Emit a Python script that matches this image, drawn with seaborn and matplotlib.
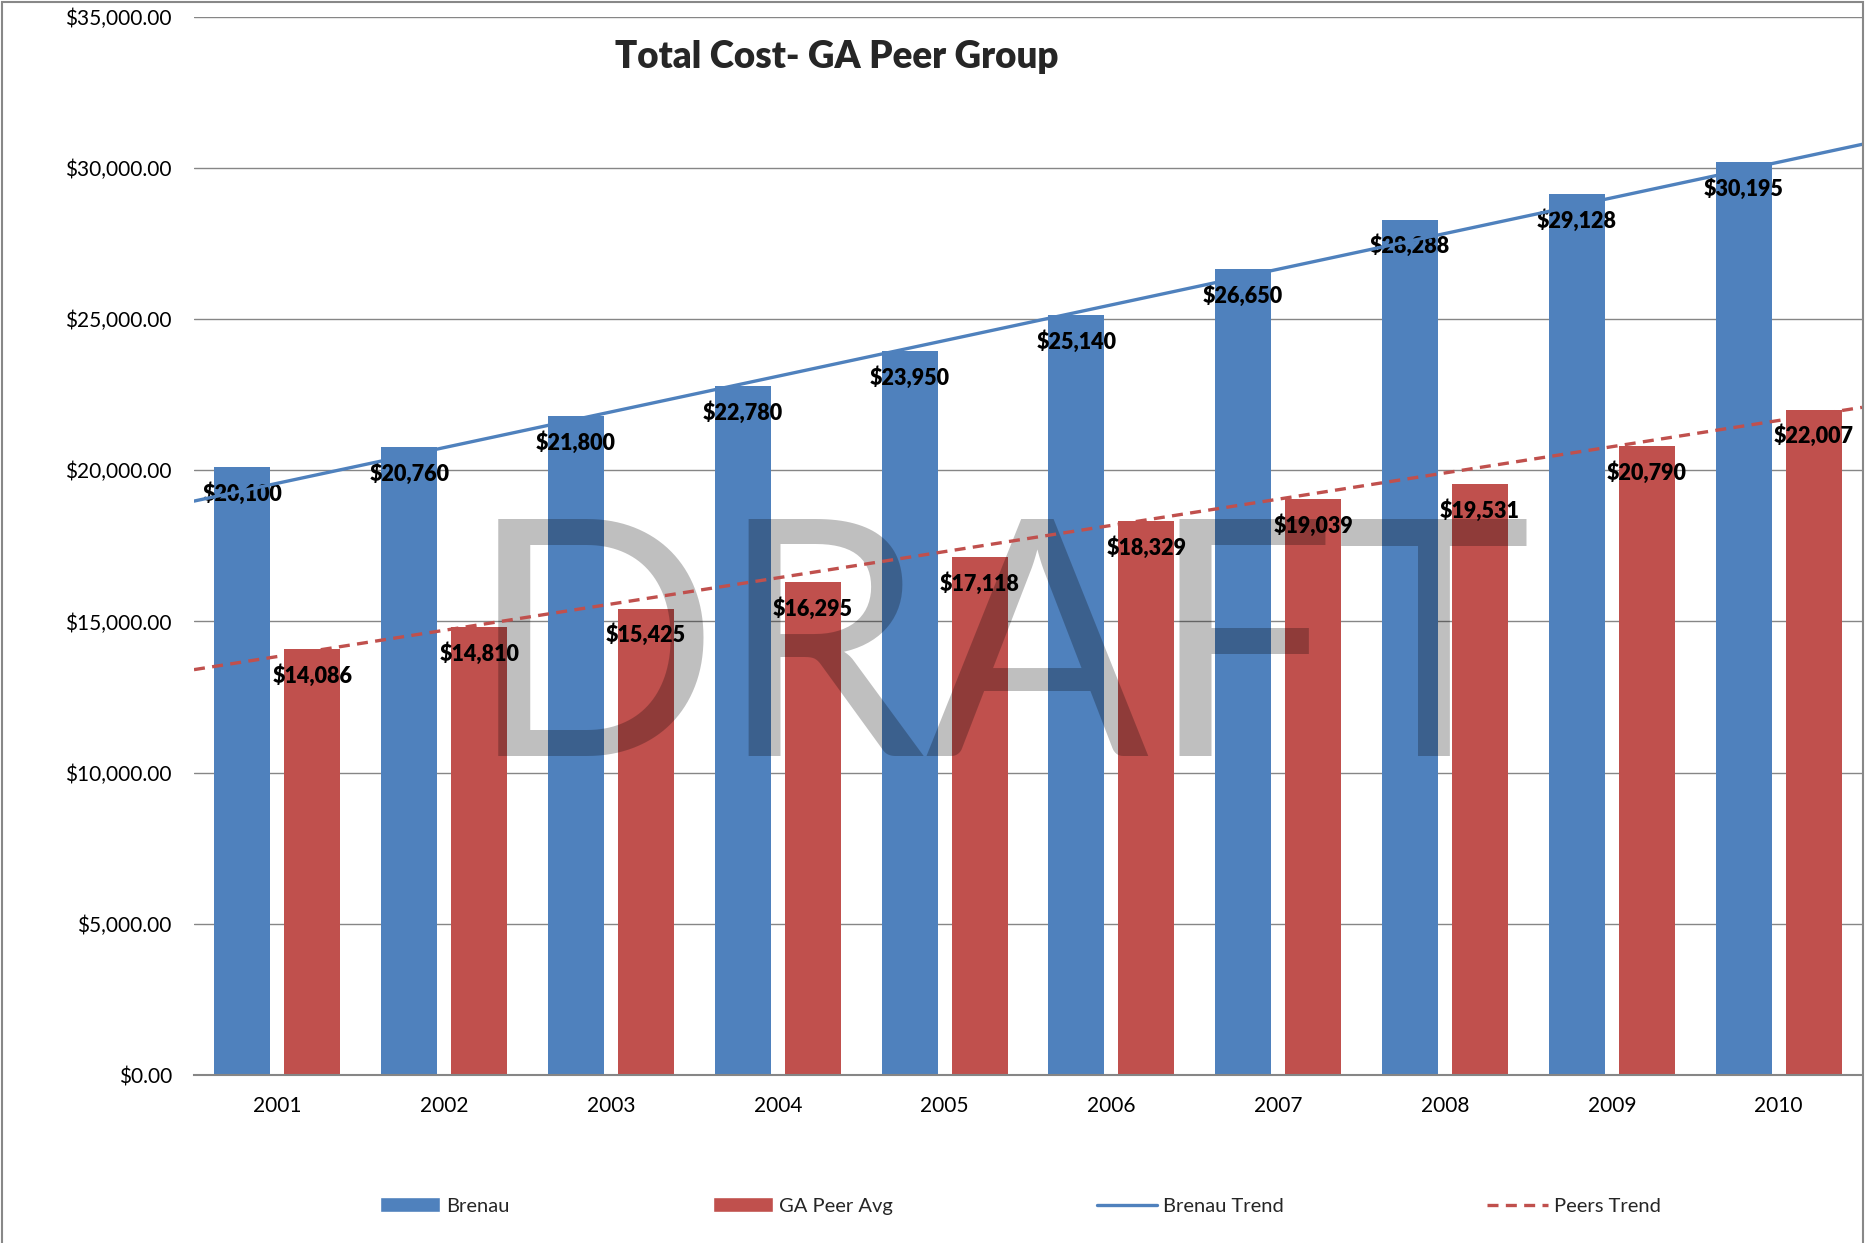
"""Total Cost - GA Peer Group: grouped bars with linear trend lines."""

import matplotlib

matplotlib.use("Agg")
import matplotlib.pyplot as plt
import numpy as np
import pandas as pd
import seaborn as sns
from matplotlib.lines import Line2D
from matplotlib.patches import Patch, Rectangle

YEARS = ["2001", "2002", "2003", "2004", "2005", "2006", "2007", "2008", "2009", "2010"]
BRENAU = [20100, 20760, 21800, 22780, 23950, 25140, 26650, 28288, 29128, 30195]
PEER_AVG = [14086, 14810, 15425, 16295, 17118, 18329, 19039, 19531, 20790, 22007]
SERIES = ["Brenau", "GA Peer Avg"]
TREND_NAMES = ["Brenau Trend", "Peers Trend"]
Y_TICKS = [0, 5000, 10000, 15000, 20000, 25000, 30000, 35000]

BLUE = "#4F81BD"
RED = "#C0504D"
GRID = "#868686"
W, H = 1866, 1243

sns.set_theme(style="white")
plt.rcParams["font.family"] = ["Lato", "DejaVu Sans"]

df = pd.DataFrame({
    "year": YEARS * 2,
    "cost": BRENAU + PEER_AVG,
    "series": [SERIES[0]] * len(YEARS) + [SERIES[1]] * len(YEARS),
})

fig = plt.figure(figsize=(W / 100, H / 100), dpi=100)
ax = fig.add_axes([194 / W, 1 - 1075 / H, (1862 - 194) / W, (1075 - 16.7) / H])

sns.barplot(
    data=df, x="year", y="cost", hue="series", palette=[BLUE, RED],
    width=0.84, gap=0.2, saturation=1, linewidth=0, errorbar=None,
    legend=False, ax=ax, zorder=2,
)

# value labels just inside the top of each bar
for container, values in zip(ax.containers, [BRENAU, PEER_AVG]):
    for bar, v in zip(container, values):
        ax.annotate(
            f"${v:,}", (bar.get_x() + bar.get_width() / 2, bar.get_height()),
            xytext=(0, -19), textcoords="offset points", ha="center", va="center",
            fontsize=15.5, fontweight="heavy", color="black", zorder=4,
        )

# linear trend lines across the full category range
xs = np.arange(len(YEARS))
edge = np.array([-0.5, len(YEARS) - 0.5])
for vals, color, ls in [(BRENAU, BLUE, "-"), (PEER_AVG, RED, (0, (3.3, 2.2)))]:
    slope, icpt = np.polyfit(xs, vals, 1)
    ax.plot(edge, slope * edge + icpt, color=color, lw=2.4, ls=ls, zorder=5)

ax.set_xlim(-0.5, len(YEARS) - 0.5)
ax.set_ylim(0, 35000)
ax.set_yticks(Y_TICKS)
ax.set_yticklabels([f"${v:,.2f}" for v in Y_TICKS])
ax.set_xlabel("")
ax.set_ylabel("")
ax.yaxis.grid(True, color=GRID, lw=1.0)
ax.set_axisbelow(True)
for side in ["left", "right", "top"]:
    ax.spines[side].set_visible(False)
ax.spines["bottom"].set_color(GRID)
ax.spines["bottom"].set_linewidth(1.5)
ax.tick_params(axis="both", length=0, labelsize=15, colors="black")
ax.tick_params(axis="y", pad=16)
ax.tick_params(axis="x", pad=15)

# watermark
ax.text(1000 / W, 1 - 756 / H, "DRAFT", transform=fig.transFigure, fontsize=238,
        color="black", alpha=0.25, ha="center", va="baseline", zorder=3)

fig.text(837 / W, 1 - 57 / H, "Total Cost- GA Peer Group", fontsize=26.5,
         fontweight="heavy", ha="center", va="center")

handles = [
    Patch(facecolor=BLUE),
    Patch(facecolor=RED),
    Line2D([], [], color=BLUE, lw=2.4),
    Line2D([], [], color=RED, lw=2.4, ls=(0, (3.3, 2.2))),
]
fig.legend(
    handles, SERIES + TREND_NAMES, loc="center", bbox_to_anchor=(1020 / W, 1 - 1206 / H),
    ncol=4, frameon=False, fontsize=14.5, handlelength=3, handleheight=0.75,
    handletextpad=0.3, columnspacing=10.1,
)

fig.patches.append(Rectangle((2 / W, -0.01), (1863 - 2) / W, 1 - 2 / H + 0.01,
                             transform=fig.transFigure, fill=False,
                             edgecolor="#888888", lw=1.5))

fig.savefig("out.png", dpi=100)
